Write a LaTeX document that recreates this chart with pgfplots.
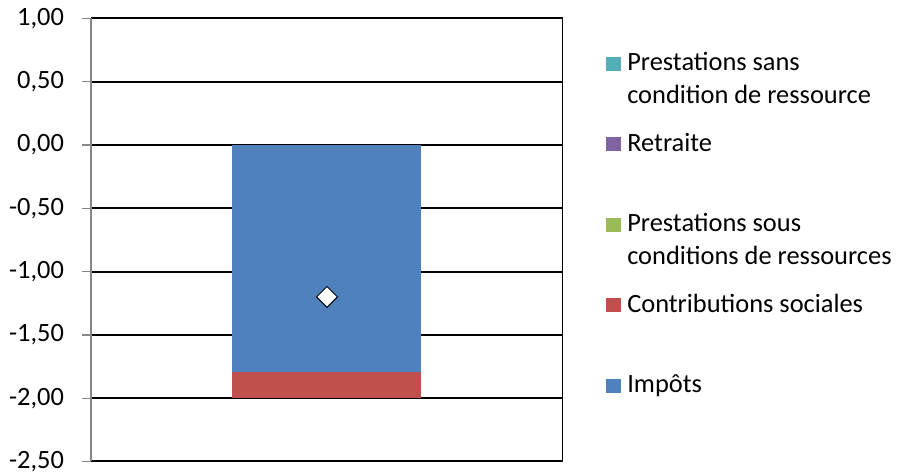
\documentclass[border=0pt]{standalone}
\usepackage{pgfplots}
\pgfplotsset{compat=1.18}
\usepackage{fontspec}
\setmainfont{Carlito}

\definecolor{impots}{HTML}{4F81BD}
\definecolor{contrib}{HTML}{C0504D}
\definecolor{sous}{HTML}{9BBB59}
\definecolor{retraite}{HTML}{8064A2}
\definecolor{sans}{HTML}{55ADB5}
\definecolor{axisgray}{HTML}{868686}

\pgfplotsset{
  panel/.style={
    scale only axis, width=236pt, height=221.5pt,
    xmin=-0.5, xmax=0.5, ymin=-2.5, ymax=1,
  },
  % square swatch sitting on the baseline of the first text line
  legsq/.style={legend image code/.code={\fill[##1] (0pt,8.875pt) rectangle (7.5pt,16.025pt);}},
}

\begin{document}
\begin{tikzpicture}
\begin{axis}[panel,
  ybar stacked, bar width=94.5pt,
  axis lines*=left,
  x axis line style={draw=none},
  y axis line style={axisgray, line width=0.6pt},
  xtick=\empty,
  ytick={-2.5,-2,...,1},
  tick align=outside, major tick length=4.5pt,
  ytick style={axisgray, line width=0.6pt},
  ymajorgrids, major grid style={black, line width=1pt},
  /pgf/number format/assume math mode=true,
  yticklabel style={font=\fontsize{13.2}{15}\selectfont, xshift=-5.5pt,
    /pgf/number format/.cd, fixed, fixed zerofill, precision=2, use comma},
  reverse legend,
  legend cell align=left,
  legend style={at={(1.0911,0.9323)}, anchor=north west,
    draw=none, fill=none, inner sep=0pt, outer sep=0pt,
    row sep=0pt, column sep=3.15pt,
    font=\fontsize{13.2}{16.5}\selectfont,
    nodes={inner sep=0pt, outer sep=0pt, text height=11.25pt, text depth=29pt}},
]
% negative components, stacked downwards from zero
\addplot[fill=impots, draw=none, legsq] coordinates {(0,-1.79)};
\addplot[fill=contrib, draw=none, legsq] coordinates {(0,-0.21)};
% return the stack to zero before the positive components
\addplot[draw=none, fill=none, forget plot] coordinates {(0,2.00)};
\addplot[fill=sous, draw=none, legsq] coordinates {(0,0.40)};
\addplot[fill=retraite, draw=none, legsq] coordinates {(0,0.32)};
\addplot[fill=sans, draw=none, legsq] coordinates {(0,0.08)};
\legend{%
  Impôts,
  Contributions sociales,
  \parbox[t]{160pt}{Prestations sous\\conditions de ressources},
  Retraite,
  \parbox[t]{160pt}{Prestations sans\\condition de ressource}}
\draw[black, line width=1pt] (rel axis cs:1,0) -- (rel axis cs:1,1);
\end{axis}
% net balance marker
\begin{axis}[panel, axis lines=none, xtick=\empty, ytick=\empty]
\addplot[only marks, mark=square*, mark size=3.7pt,
  mark options={rotate=45, fill=white, draw=black, line width=0.5pt}]
  coordinates {(0,-1.20)};
\end{axis}
\pgfresetboundingbox
\path[use as bounding box] (-45.5pt,-6.75pt) rectangle (403.5pt,230.75pt);
\end{tikzpicture}
\end{document}
